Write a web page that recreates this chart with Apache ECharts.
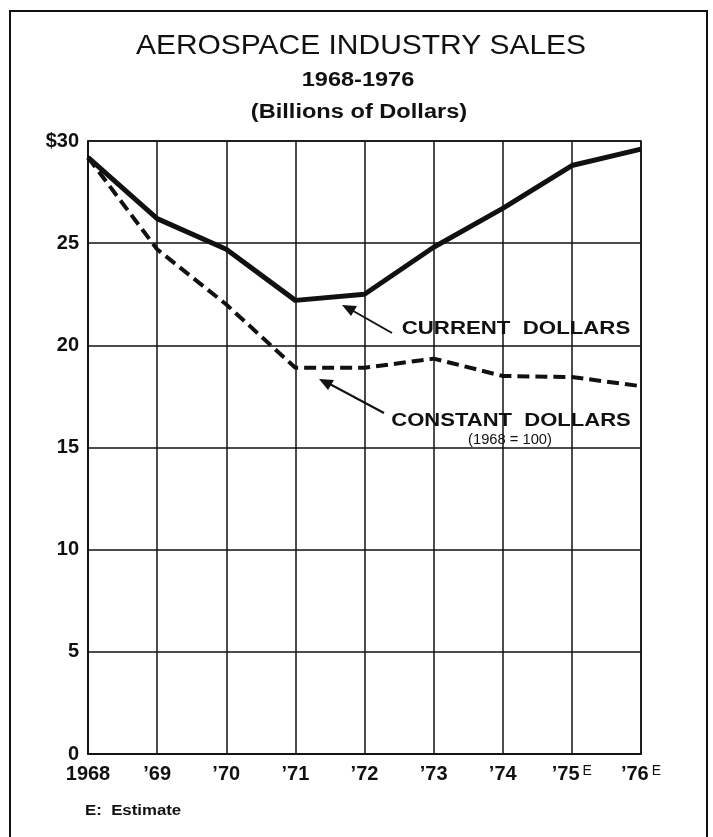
<!DOCTYPE html>
<html>
<head>
<meta charset="utf-8">
<script src="https://cdn.jsdelivr.net/npm/echarts@6/dist/echarts.min.js"></script>
<style>
  html, body { margin: 0; padding: 0; background: #fff; }
  #chart { width: 713px; height: 837px; }
</style>
</head>
<body>
<div id="chart"></div>
<script>
// years on the x axis, and what is printed under each tick
const years = ['1968', '1969', '1970', '1971', '1972', '1973', '1974', '1975', '1976']
const yearLabels = ['1968', '\u201969', '\u201970', '\u201971', '\u201972', '\u201973', '\u201974', '\u201975', '\u201976']
const estimated = ['1975', '1976']

// billions of dollars
const currentDollars = [29.2, 26.2, 24.7, 22.2, 22.5, 24.8, 26.7, 28.8, 29.6]
const constantDollars = [29.2, 24.7, 22.0, 18.9, 18.9, 19.35, 18.5, 18.45, 18.0]

const yTicks = [0, 5, 10, 15, 20, 25, 30]

const font = '"Liberation Sans", Arial, Helvetica, sans-serif'
const chart = echarts.init(document.getElementById('chart'))

// wide lettering like the printed original
const wideText = (text, x, y, css, sx, align) => ({
  type: 'text',
  x: x,
  y: y,
  scaleX: sx,
  style: { text: text, font: css, fill: '#111', align: align || 'center', verticalAlign: 'middle' }
})

const option = {
  backgroundColor: '#fff',
  animation: false,
  grid: {
    left: 88,
    right: 72,
    top: 141,
    bottom: 83,
    show: true,
    borderColor: '#111',
    borderWidth: 1.5
  },
  xAxis: {
    type: 'category',
    boundaryGap: false,
    data: years,
    axisLine: { lineStyle: { color: '#111', width: 1.5 } },
    axisTick: { show: false },
    splitLine: { show: true, interval: 0, lineStyle: { color: '#111', width: 1.5 } },
    axisLabel: {
      interval: 0,
      margin: 10,
      formatter: (val, i) => {
        const txt = yearLabels[i]
        return estimated.includes(val) ? `{b|${txt}}{e|E}` : `{b|${txt}}`
      },
      rich: {
        b: { fontFamily: font, fontSize: 20, fontWeight: 'bold', color: '#111' },
        e: { fontFamily: font, fontSize: 14, color: '#111', padding: [0, 0, 6, 3], verticalAlign: 'top' }
      }
    }
  },
  yAxis: {
    type: 'value',
    min: 0,
    max: 30,
    interval: 5,
    axisLine: { show: true, lineStyle: { color: '#111', width: 1.5 } },
    axisTick: { show: false },
    splitLine: { show: true, lineStyle: { color: '#111', width: 1.5 } },
    axisLabel: {
      margin: 9,
      fontFamily: font,
      fontSize: 20,
      fontWeight: 'bold',
      color: '#111',
      formatter: (v) => (yTicks.includes(v) ? (v === 30 ? '$30' : String(v)) : '')
    }
  },
  series: [
    {
      name: 'CURRENT DOLLARS',
      type: 'line',
      data: currentDollars,
      symbol: 'none',
      lineStyle: { color: '#111', width: 5, join: 'round' },
      z: 3
    },
    {
      name: 'CONSTANT DOLLARS',
      type: 'line',
      data: constantDollars,
      symbol: 'none',
      lineStyle: { color: '#111', width: 4, type: [12, 6] },
      z: 3
    }
  ],
  graphic: [
    // outer frame
    {
      type: 'rect',
      shape: { x: 10, y: 11, width: 697, height: 860 },
      style: { fill: 'none', stroke: '#111', lineWidth: 2 },
      silent: true
    },
    // titles
    wideText('AEROSPACE INDUSTRY SALES', 361, 46, '28px ' + font, 1.07),
    wideText('1968-1976', 358, 80, 'bold 21px ' + font, 1.12),
    wideText('(Billions of Dollars)', 359, 112, 'bold 20px ' + font, 1.18),
    // arrow to the current dollars line
    {
      type: 'line',
      shape: { x1: 392, y1: 333, x2: 348, y2: 308 },
      style: { stroke: '#111', lineWidth: 2 }
    },
    {
      type: 'polygon',
      shape: { points: [[342, 305], [357, 306], [351, 316]] },
      style: { fill: '#111' }
    },
    wideText('CURRENT  DOLLARS', 516, 329, 'bold 19px ' + font, 1.17),
    // arrow to the constant dollars line
    {
      type: 'line',
      shape: { x1: 384, y1: 413, x2: 326, y2: 382 },
      style: { stroke: '#111', lineWidth: 2 }
    },
    {
      type: 'polygon',
      shape: { points: [[319, 379], [334, 380], [328, 390]] },
      style: { fill: '#111' }
    },
    wideText('CONSTANT  DOLLARS', 511, 421, 'bold 19px ' + font, 1.16),
    wideText('(1968 = 100)', 510, 440, '14px ' + font, 1.05),
    wideText('E:  Estimate', 85, 811, 'bold 14px ' + font, 1.2, 'left')
  ]
}

chart.setOption(option)
</script>
</body>
</html>
